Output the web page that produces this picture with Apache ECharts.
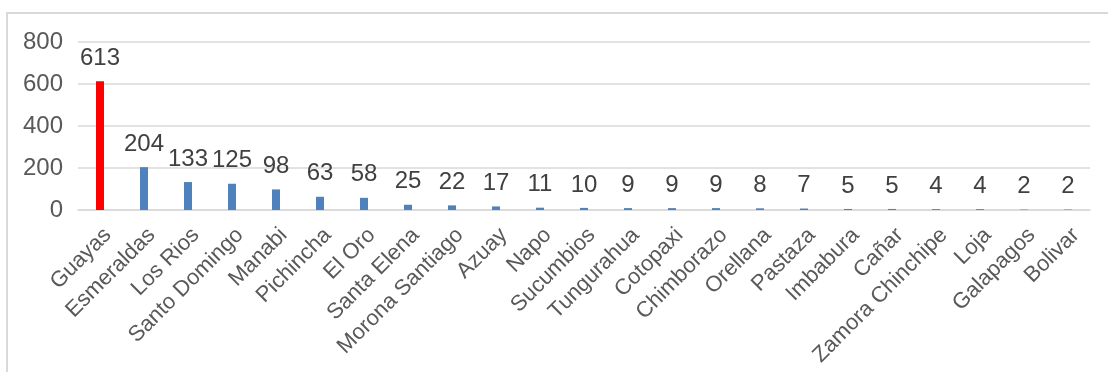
<!DOCTYPE html>
<html>
<head>
<meta charset="utf-8">
<script src="https://cdn.jsdelivr.net/npm/echarts@6/dist/echarts.min.js"></script>
<style>html,body{margin:0;padding:0;background:#fff}#c{width:1108px;height:372px}</style>
</head>
<body>
<div id="c"></div>
<script>
const categories = ["Guayas","Esmeraldas","Los Rios","Santo Domingo","Manabi","Pichincha","El Oro","Santa Elena","Morona Santiago","Azuay","Napo","Sucumbios","Tungurahua","Cotopaxi","Chimborazo","Orellana","Pastaza","Imbabura","Cañar","Zamora Chinchipe","Loja","Galapagos","Bolivar"];
const values = [613,204,133,125,98,63,58,25,22,17,11,10,9,9,9,8,7,5,5,4,4,2,2];
const yTicks = [0,200,400,600,800];

const chart = echarts.init(document.getElementById('c'), null, {renderer:'canvas'});
const font = 'Liberation Sans, Arial, sans-serif';
chart.setOption({
  animation: false,
  graphic: [{type:'rect', shape:{x:7,y:13,width:1200,height:400}, style:{fill:'none', stroke:'#D9D9D9', lineWidth:2}, silent:true, z:-1}],
  grid: {left:78, top:42, width:1012, height:168, containLabel:false},
  xAxis: {
    type:'category', data: categories,
    axisTick:{show:false},
    axisLine:{lineStyle:{color:'#D9D9D9', width:1.5}},
    axisLabel:{rotate:45, interval:0, margin:14, fontSize:22, color:'#595959', fontFamily:font, align:'right', verticalAlign:'top'}
  },
  yAxis: {
    type:'value', min:yTicks[0], max:yTicks[yTicks.length-1], interval:200,
    axisLine:{show:false}, axisTick:{show:false},
    splitLine:{lineStyle:{color:'#D9D9D9', width:1.5}},
    axisLabel:{margin:15, fontSize:24, color:'#595959', fontFamily:font}
  },
  series: [{
    type:'bar', data: values.map((v,i)=>({value:v, itemStyle:{color: i===0 ? '#FF0000' : '#4F81BD'}})),
    barWidth:8,
    label:{show:true, position:'top', distance:11, fontSize:24, color:'#404040', fontFamily:font}
  }]
});
</script>
</body>
</html>
